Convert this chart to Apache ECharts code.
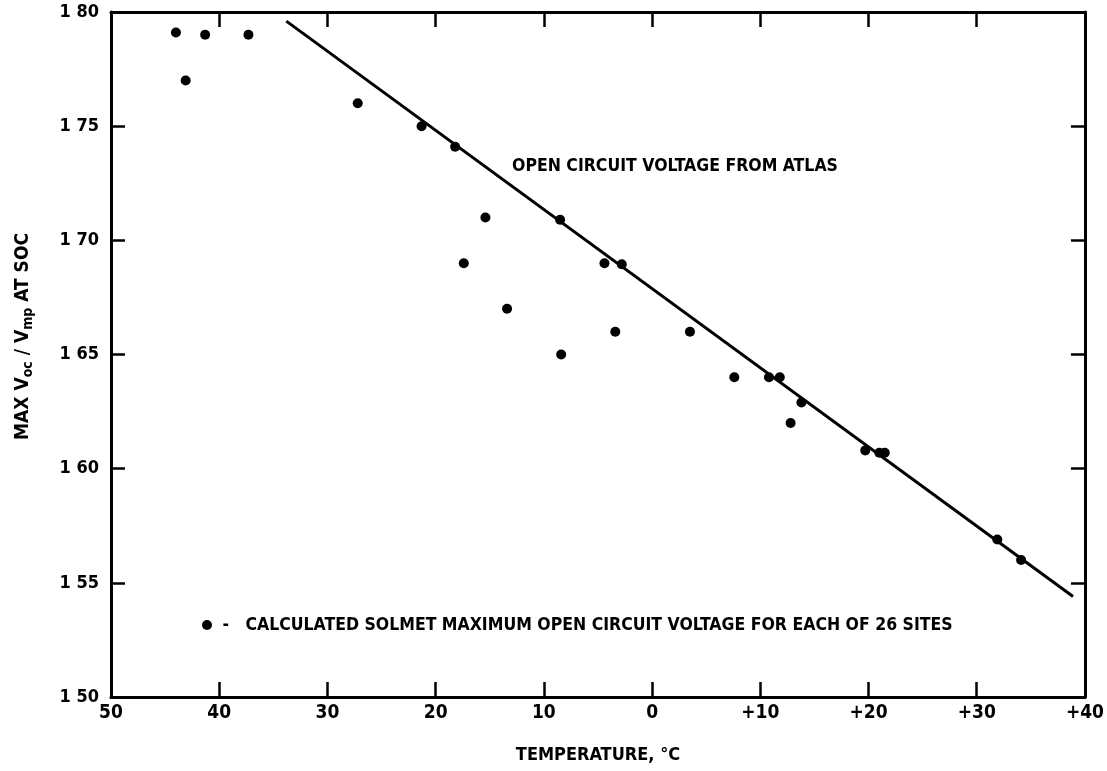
<!DOCTYPE html>
<html>
<head>
<meta charset="utf-8">
<script src="https://cdn.jsdelivr.net/npm/echarts@6/dist/echarts.min.js"></script>
<style>
html,body{margin:0;padding:0;background:#fff;}
#main{width:1107px;height:771px;}
</style>
</head>
<body>
<div id="main"></div>
<script>
// Site data: temperature (°C) and MAX Voc/Vmp at SOC
var siteTemps = [-44.0, -43.1, -41.3, -37.3, -27.2, -21.3, -18.2, -17.4, -15.4, -13.4, -8.5, -8.4, -4.4, -3.4, -2.8, 3.5, 7.6, 10.8, 11.8, 12.8, 13.8, 19.7, 21.0, 21.5, 31.9, 34.1];
var siteValues = [1.791, 1.770, 1.790, 1.790, 1.760, 1.750, 1.741, 1.690, 1.710, 1.670, 1.709, 1.650, 1.690, 1.660, 1.6895, 1.660, 1.640, 1.640, 1.640, 1.620, 1.629, 1.608, 1.607, 1.607, 1.569, 1.560];
// Open circuit voltage from ATLAS (straight line end points)
var atlasTemps = [-33.8, 38.9];
var atlasValues = [1.796, 1.544];
// Axis ranges / ticks
var xMin = -50, xMax = 40, xStep = 10;
var yMin = 1.50, yMax = 1.80, yStep = 0.05;
var seriesName = 'CALCULATED SOLMET MAXIMUM OPEN CIRCUIT VOLTAGE FOR EACH OF 26 SITES';
var lineLabel = 'OPEN CIRCUIT VOLTAGE FROM ATLAS';
var xTitle = 'TEMPERATURE, \u00B0C';

var FONT = '"Liberation Sans Narrow", "DejaVu Sans Condensed", "Roboto Condensed", "Liberation Sans", sans-serif';

var sitePoints = siteTemps.map(function (t, i) { return [t, siteValues[i]]; });
var atlasPoints = atlasTemps.map(function (t, i) { return [t, atlasValues[i]]; });

function xFmt(v) { v = Math.round(v); if (v < 0) return String(-v); if (v === 0) return '0'; return '+' + v; }
function yFmt(v) { return v.toFixed(2).replace('.', ' '); }

var axisLine = { show: true, onZero: false, lineStyle: { color: '#000', width: 3 } };
var xTick = { show: true, inside: true, length: 15, lineStyle: { color: '#000', width: 2.5 } };
var yTick = { show: true, inside: true, length: 14, lineStyle: { color: '#000', width: 2.5 } };

var chart = echarts.init(document.getElementById('main'), null, { renderer: 'canvas' });
chart.setOption({
  backgroundColor: '#fff',
  animation: false,
  textStyle: { fontFamily: FONT, fontWeight: 'bold', color: '#000' },
  grid: { left: 111, right: 19, top: 12, bottom: 74 },
  legend: {
    data: [seriesName],
    left: 202, top: 616, padding: 0,
    itemWidth: 10, itemHeight: 10,
    icon: 'circle',
    formatter: ' -   {name}',
    textStyle: { fontFamily: FONT, fontWeight: 'bold', fontSize: 17.5, color: '#000' }
  },
  graphic: [{
    type: 'text', left: 512, top: 157,
    style: { text: lineLabel, font: 'bold 17.5px ' + FONT, fill: '#000' }
  }],
  xAxis: [{
    type: 'value', min: xMin, max: xMax, interval: xStep, position: 'bottom',
    axisLine: axisLine, axisTick: xTick, splitLine: { show: false },
    axisLabel: { formatter: xFmt, fontSize: 19, fontWeight: 'bold', fontFamily: FONT, color: '#000', margin: 7 },
    name: xTitle, nameLocation: 'middle', nameGap: 49,
    nameTextStyle: { fontSize: 18, fontWeight: 'bold', fontFamily: FONT, color: '#000' }
  }, {
    type: 'value', min: xMin, max: xMax, interval: xStep, position: 'top',
    axisLine: axisLine, axisTick: xTick, axisLabel: { show: false }, splitLine: { show: false }
  }],
  yAxis: [{
    type: 'value', min: yMin, max: yMax, interval: yStep, position: 'left',
    axisLine: axisLine, axisTick: yTick, splitLine: { show: false },
    axisLabel: { formatter: yFmt, fontSize: 18, fontWeight: 'bold', fontFamily: FONT, color: '#000', margin: 12 },
    name: 'MAX V{sub|oc} / V{sub|mp} AT SOC', nameLocation: 'middle', nameGap: 76, nameRotate: 90,
    nameTextStyle: {
      fontSize: 19, fontWeight: 'bold', fontFamily: FONT, color: '#000', lineHeight: 24,
      padding: [0, 0, 0, 36],
      rich: { sub: { fontSize: 14, fontWeight: 'bold', fontFamily: FONT, color: '#000', verticalAlign: 'bottom', lineHeight: 16, padding: [10, 0, 0, 0] } }
    }
  }, {
    type: 'value', min: yMin, max: yMax, interval: yStep, position: 'right',
    axisLine: axisLine, axisTick: yTick, axisLabel: { show: false }, splitLine: { show: false }
  }],
  series: [{
    name: seriesName, type: 'scatter', data: sitePoints,
    symbol: 'circle', symbolSize: 10, itemStyle: { color: '#000', opacity: 1 }
  }, {
    name: lineLabel, type: 'line', data: atlasPoints,
    symbol: 'none', lineStyle: { color: '#000', width: 3 }
  }]
});
</script>
</body>
</html>
